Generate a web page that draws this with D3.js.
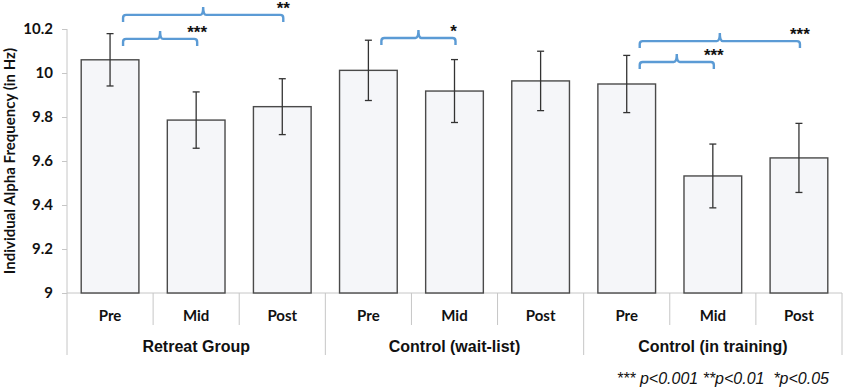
<!DOCTYPE html>
<html>
<head>
<meta charset="utf-8">
<script src="https://cdn.jsdelivr.net/npm/d3@7"></script>
<style>
  body { margin: 0; background: #fff; }
  svg { display: block; }
</style>
</head>
<body>
<div id="chart"></div>
<script>
// data
const groups = ['Retreat Group', 'Control (wait-list)', 'Control (in training)'];
const phases = ['Pre', 'Mid', 'Post'];
const means = [
    [10.06, 9.786, 9.847],
    [10.012, 9.918, 9.964],
    [9.95, 9.532, 9.614]
];
const errors = [
    [0.119, 0.128, 0.127],
    [0.137, 0.143, 0.135],
    [0.13, 0.145, 0.157]
];
const yTicks = [9, 9.2, 9.4, 9.6, 9.8, 10, 10.2];
// significance brackets: group, from phase, to phase, label, height of the bracket line (in Hz units)
const brackets = [
    {group: 0, from: 'Pre', to: 'Mid', label: '***', at: 10.155},
    {group: 0, from: 'Pre', to: 'Post', label: '**', at: 10.264},
    {group: 1, from: 'Pre', to: 'Mid', label: '*', at: 10.159},
    {group: 2, from: 'Pre', to: 'Mid', label: '***', at: 10.05},
    {group: 2, from: 'Pre', to: 'Post', label: '***', at: 10.145}
];
const footnote = '*** p<0.001 **p<0.01  *p<0.05';

const width = 843, height = 391;
const margin = {top: 29, right: 1, bottom: 98, left: 67};
const innerW = width - margin.left - margin.right;
const innerH = height - margin.top - margin.bottom;

const rows = [];
groups.forEach((g, gi) => phases.forEach((p, pi) => {
    rows.push({key: g + '|' + p, group: g, gi, phase: p, mean: means[gi][pi], err: errors[gi][pi]});
}));

const x = d3.scaleBand()
    .domain(rows.map(d => d.key))
    .range([0, innerW])
    .paddingInner(0.33)
    .paddingOuter(0.165);
const xOuter = d3.scaleBand().domain(rows.map(d => d.key)).range([0, innerW]);
const y = d3.scaleLinear().domain([9, 10.2]).range([innerH, 0]);

const svg = d3.select('#chart').append('svg')
    .attr('width', width)
    .attr('height', height);
const g = svg.append('g')
    .attr('transform', `translate(${margin.left},${margin.top})`);

const axisColor = '#c6c6c6';

// y axis
const yAxis = g.append('g')
    .call(d3.axisLeft(y).tickValues(yTicks).tickSize(5).tickFormat(d3.format('~g')));
yAxis.select('.domain').remove();
yAxis.selectAll('.tick line').attr('stroke', axisColor);
yAxis.selectAll('.tick text')
    .attr('x', -14)
    .style('font-family', 'Lato, "Open Sans", sans-serif')
    .style('font-weight', 'bold')
    .style('font-size', '15px')
    .attr('fill', '#111');

g.append('line')
    .attr('x1', 0).attr('x2', 0)
    .attr('y1', 0).attr('y2', innerH + 62)
    .attr('stroke', axisColor);

// x axis baseline
g.append('line')
    .attr('x1', 0).attr('x2', innerW)
    .attr('y1', innerH).attr('y2', innerH)
    .attr('stroke', axisColor);

// category dividers
rows.forEach((d, i) => {
    if (i === 0) return;
    const xx = xOuter(d.key);
    g.append('line')
        .attr('x1', xx).attr('x2', xx)
        .attr('y1', innerH)
        .attr('y2', innerH + (i % 3 === 0 ? 62 : 32))
        .attr('stroke', axisColor);
});
g.append('line')
    .attr('x1', innerW).attr('x2', innerW)
    .attr('y1', innerH).attr('y2', innerH + 62)
    .attr('stroke', axisColor);

// phase labels
g.selectAll('.phase')
    .data(rows)
    .enter().append('text')
    .attr('class', 'phase')
    .attr('x', d => xOuter(d.key) + xOuter.bandwidth() / 2)
    .attr('y', innerH + 28)
    .attr('text-anchor', 'middle')
    .style('font-family', 'Lato, "Open Sans", sans-serif')
    .style('font-weight', 'bold')
    .style('font-size', '15px')
    .attr('fill', '#111')
    .text(d => d.phase);

// group labels
g.selectAll('.group')
    .data(groups)
    .enter().append('text')
    .attr('class', 'group')
    .attr('x', d => xOuter(d + '|Mid') + xOuter.bandwidth() / 2)
    .attr('y', innerH + 59)
    .attr('text-anchor', 'middle')
    .style('font-family', '"Liberation Sans", Arial, sans-serif')
    .style('font-weight', 'bold')
    .style('font-size', '16px')
    .attr('fill', '#111')
    .text(d => d);

// bars
g.selectAll('.bar')
    .data(rows)
    .enter().append('rect')
    .attr('class', 'bar')
    .attr('x', d => x(d.key))
    .attr('y', d => y(d.mean))
    .attr('width', x.bandwidth())
    .attr('height', d => y(9) - y(d.mean))
    .attr('fill', '#f5f6f9')
    .attr('stroke', '#4a4a4a')
    .attr('stroke-width', 1.4);

// error bars
const eb = g.selectAll('.err')
    .data(rows)
    .enter().append('g')
    .attr('class', 'err')
    .attr('stroke', '#333')
    .attr('stroke-width', 1.3);
eb.append('line')
    .attr('x1', d => x(d.key) + x.bandwidth() / 2)
    .attr('x2', d => x(d.key) + x.bandwidth() / 2)
    .attr('y1', d => y(d.mean + d.err))
    .attr('y2', d => y(d.mean - d.err));
[1, -1].forEach(s => {
    eb.append('line')
        .attr('x1', d => x(d.key) + x.bandwidth() / 2 - 3.5)
        .attr('x2', d => x(d.key) + x.bandwidth() / 2 + 3.5)
        .attr('y1', d => y(d.mean + s * d.err))
        .attr('y2', d => y(d.mean + s * d.err));
});

// significance brackets
const center = (gi, p) => x(groups[gi] + '|' + p) + x.bandwidth() / 2;
brackets.forEach(b => {
    const x1 = center(b.group, b.from) + 13;
    const x2 = center(b.group, b.to) + 1;
    const lineY = y(b.at);
    const xm = (x1 + x2) / 2;
    const r = 3, hook = 7, tip = 8;
    const path = d3.path();
    path.moveTo(x1, lineY + hook);
    path.lineTo(x1, lineY + r);
    path.quadraticCurveTo(x1, lineY, x1 + r, lineY);
    path.lineTo(xm - r, lineY);
    path.quadraticCurveTo(xm, lineY, xm, lineY - tip);
    path.quadraticCurveTo(xm, lineY, xm + r, lineY);
    path.lineTo(x2 - r, lineY);
    path.quadraticCurveTo(x2, lineY, x2, lineY + r);
    path.lineTo(x2, lineY + hook);
    g.append('path')
        .attr('d', path.toString())
        .attr('fill', 'none')
        .attr('stroke', '#5b9bd5')
        .attr('stroke-width', 2.4);
    g.append('text')
        .attr('x', x2 + (b.label.length === 1 ? -2 : 0))
        .attr('y', lineY - 1)
        .attr('text-anchor', 'middle')
        .style('font-family', '"Liberation Sans", Arial, sans-serif')
        .style('font-weight', 'bold')
        .style('font-size', '17px')
        .attr('fill', '#111')
        .text(b.label);
});

// y axis title
svg.append('text')
    .attr('transform', `translate(15,${margin.top + innerH / 2}) rotate(-90)`)
    .attr('text-anchor', 'middle')
    .style('font-family', 'Lato, "Open Sans", sans-serif')
    .style('font-weight', 'bold')
    .style('font-size', '15px')
    .attr('fill', '#111')
    .text('Individual Alpha Frequency (in Hz)');

// footnote
svg.append('text')
    .attr('x', 829)
    .attr('y', 384)
    .attr('text-anchor', 'end')
    .style('font-family', '"Liberation Sans", Arial, sans-serif')
    .style('font-style', 'italic')
    .style('font-size', '16px')
    .style('white-space', 'pre')
    .attr('fill', '#111')
    .text(footnote);
</script>
</body>
</html>
